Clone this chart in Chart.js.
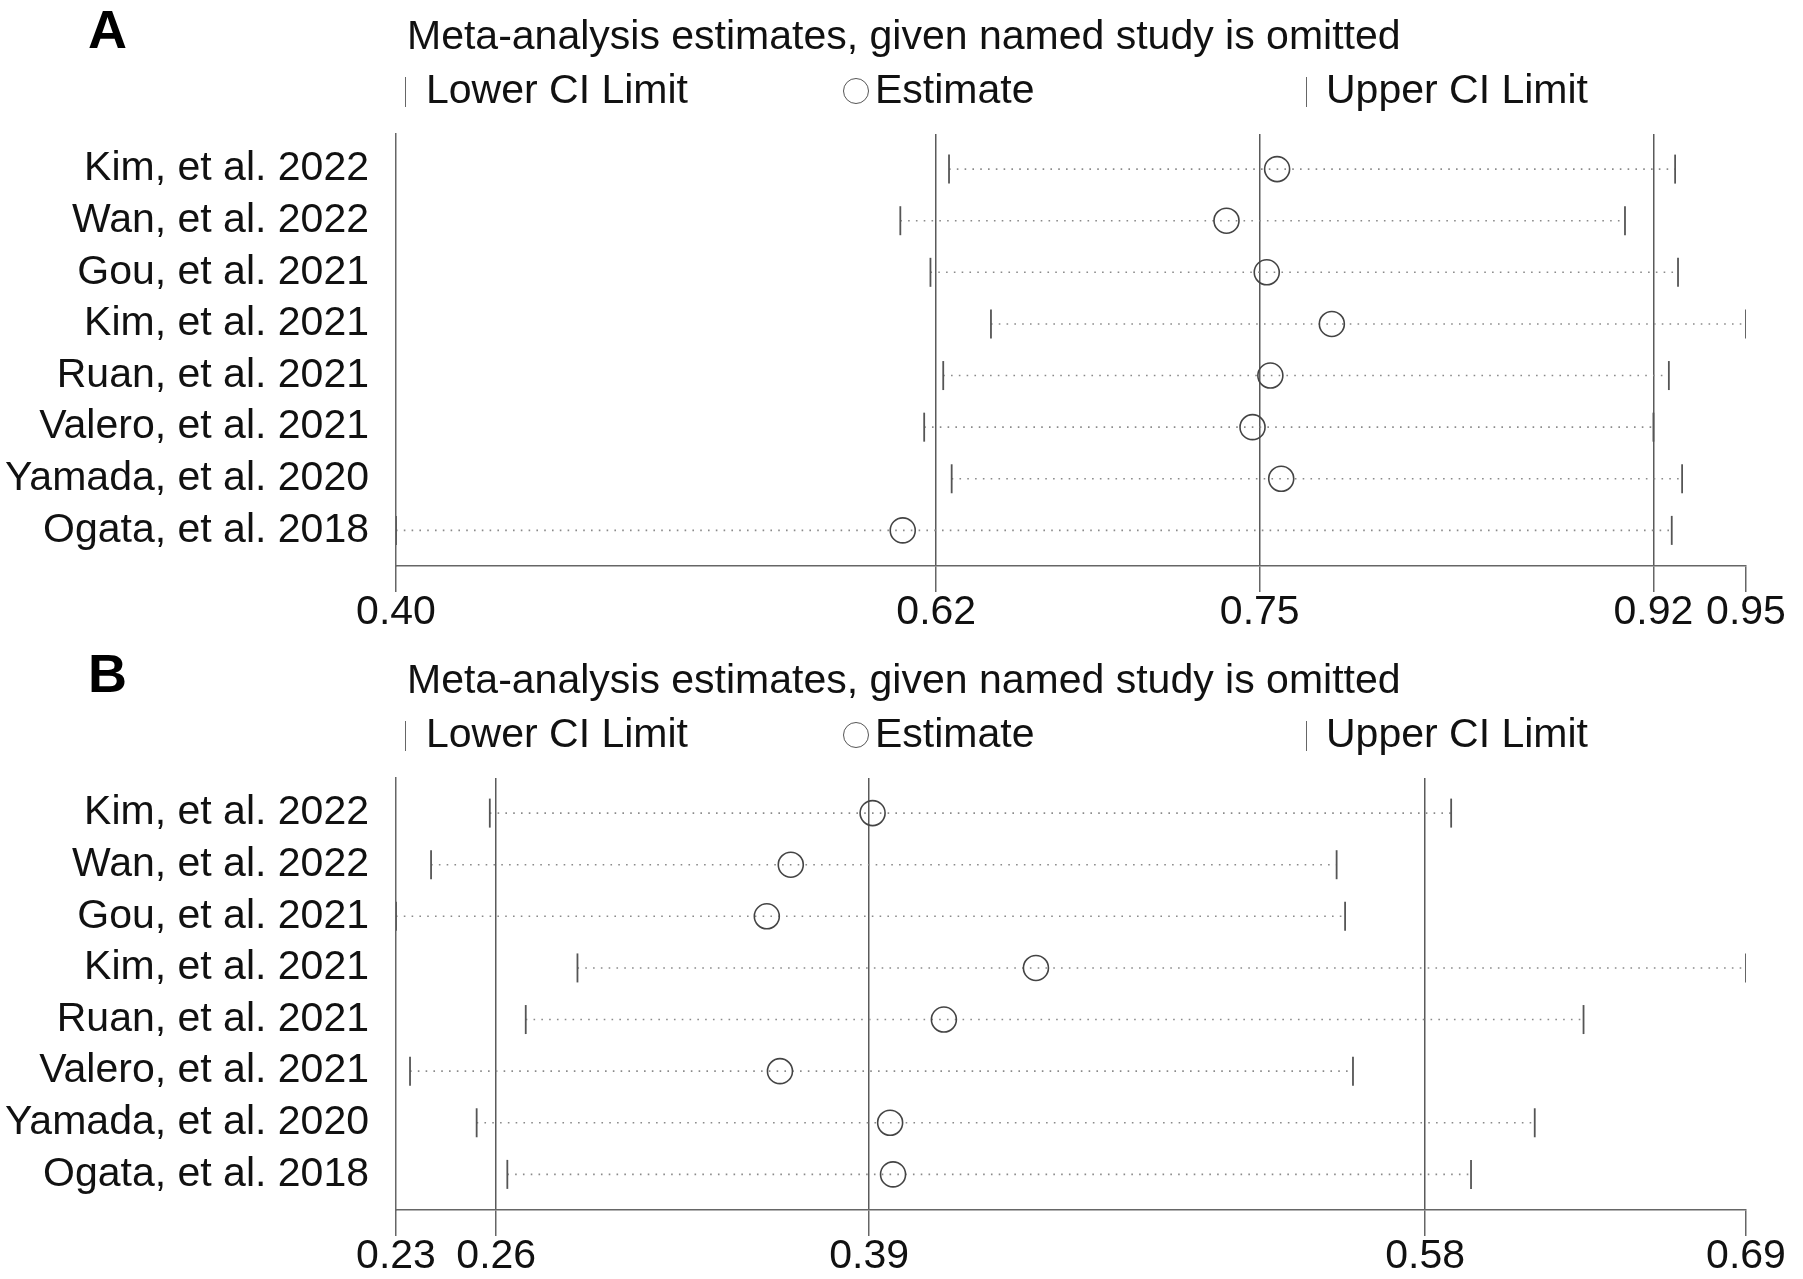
<!DOCTYPE html>
<html>
<head>
<meta charset="utf-8">
<script src="https://cdn.jsdelivr.net/npm/chart.js@4.4.1/dist/chart.umd.min.js"></script>
<style>
html,body{margin:0;padding:0;background:#fff;width:1803px;height:1279px;overflow:hidden;font-family:"Liberation Sans",Arial,sans-serif;}
.panel{position:absolute;left:0;width:1803px;}
.panel canvas{position:absolute;left:0;top:0;}
.txt{position:absolute;white-space:nowrap;line-height:1;color:#111;font-size:41px;}
.letter{font-weight:bold;font-size:54px;color:#000;}
.ltick{position:absolute;width:0;border-left:1.6px solid #666;}
.lcirc{position:absolute;border:1.5px solid #555;border-radius:50%;box-sizing:border-box;}
</style>
</head>
<body>
<div class="panel" id="panelA" style="top:0;height:644px;"><canvas id="chartA" width="1803" height="644"></canvas></div>
<div class="panel" id="panelB" style="top:644px;height:635px;"><canvas id="chartB" width="1803" height="635"></canvas></div>
<script>
// ---- data ----
const studies = ["Kim, et al. 2022","Wan, et al. 2022","Gou, et al. 2021","Kim, et al. 2021","Ruan, et al. 2021","Valero, et al. 2021","Yamada, et al. 2020","Ogata, et al. 2018"];
const panelTitle = "Meta-analysis estimates, given named study is omitted";
const legendLabels = ["Lower CI Limit","Estimate","Upper CI Limit"];

const aLower    = [0.6244, 0.6042, 0.6167, 0.6418, 0.6220, 0.6141, 0.6255, 0.3950];
const aEstimate = [0.7605, 0.7395, 0.7562, 0.7832, 0.7577, 0.7503, 0.7622, 0.6052];
const aUpper    = [0.9256, 0.9048, 0.9268, 0.9550, 0.9230, 0.9166, 0.9285, 0.9242];
const aTickValues = [0.3950, 0.6191, 0.7533, 0.9166, 0.9550];
const aTickLabels = ["0.40","0.62","0.75","0.92","0.95"];

const bLower    = [0.2596, 0.2395, 0.2275, 0.2896, 0.2719, 0.2323, 0.2551, 0.2656];
const bEstimate = [0.3906, 0.3626, 0.3544, 0.4465, 0.4150, 0.3589, 0.3966, 0.3976];
const bUpper    = [0.5886, 0.5494, 0.5523, 0.6895, 0.6339, 0.5550, 0.6172, 0.5954];
const bTickValues = [0.2275, 0.2618, 0.3894, 0.5797, 0.6895];
const bTickLabels = ["0.23","0.26","0.39","0.58","0.69"];

// ---- overlays (panel letter, title, legend) ----
function addOverlay(panelId, letter){
  const p = document.getElementById(panelId);
  const mk = (cls, txt, left, top) => { const d=document.createElement('div'); d.className=cls; if(txt!==null) d.textContent=txt; d.style.left=left+'px'; d.style.top=top+'px'; p.appendChild(d); return d; };
  mk('txt letter', letter, 88, 2);
  mk('txt', panelTitle, 407, 15);
  const t1 = mk('ltick', null, 405, 77); t1.style.height='30px';
  mk('txt', legendLabels[0], 426, 69);
  const c = mk('lcirc', null, 843, 78); c.style.width='26px'; c.style.height='26px';
  mk('txt', legendLabels[1], 875, 69);
  const t2 = mk('ltick', null, 1306, 77); t2.style.height='30px';
  mk('txt', legendLabels[2], 1326, 69);
}
addOverlay('panelA','A');
addOverlay('panelB','B');

Chart.defaults.font.family = '"Liberation Sans", Arial, sans-serif';
Chart.defaults.color = '#111';

function makeChart(canvasId, lower, est, upper, tickValues, tickLabels, xAxisHeight){
  const rows = studies.map((s,i)=>i+1);
  const dotted = [];
  rows.forEach((r,i)=>{ dotted.push({x:lower[i], y:r}); dotted.push({x:upper[i], y:r}); dotted.push({x:upper[i], y:null}); });
  const last = tickValues.length - 1;
  return new Chart(document.getElementById(canvasId), {
    data: {
      datasets: [
        { type:'line', data: dotted, borderColor:'#8a8a8a', borderWidth:1.6, borderDash:[1.6,6.2], pointRadius:0, spanGaps:false, order:4 },
        { type:'scatter', label:legendLabels[0], data: rows.map((r,i)=>({x:lower[i], y:r})), pointStyle:'line', rotation:90, pointRadius:14.5, borderColor:'#555', borderWidth:1.8, order:3 },
        { type:'scatter', label:legendLabels[2], data: rows.map((r,i)=>({x:upper[i], y:r})), pointStyle:'line', rotation:90, pointRadius:14.5, borderColor:'#555', borderWidth:1.8, order:2 },
        { type:'scatter', label:legendLabels[1], data: rows.map((r,i)=>({x:est[i], y:r})), pointStyle:'circle', pointRadius:12.5, backgroundColor:'rgba(255,255,255,0)', borderColor:'#444', borderWidth:1.6, order:1 }
      ]
    },
    options: {
      responsive:false, animation:false,
      layout:{ padding:{ left:0, right:57, top:134, bottom:0 } },
      plugins:{ legend:{display:false}, tooltip:{enabled:false}, title:{display:false} },
      scales:{
        x:{ type:'linear', position:'bottom', min:tickValues[0], max:tickValues[last],
            afterBuildTicks:(s)=>{ s.ticks = tickValues.map(v=>({value:v})); },
            afterFit:(s)=>{ s.height = xAxisHeight; },
            ticks:{ autoSkip:false, maxRotation:0, minRotation:0, padding:0, color:'#111',
                    font:{ size:41, lineHeight:1 },
                    callback:(v,i)=>tickLabels[i] },
            grid:{ drawOnChartArea:true, drawTicks:true, tickLength:26, lineWidth:1.5, tickWidth:1.5, tickColor:'#666',
                   color:(ctx)=> (ctx.index===0 || ctx.index===last) ? 'rgba(0,0,0,0)' : '#5a5a5a' },
            border:{ display:true, color:'#666', width:1.5 }
        },
        y:{ type:'linear', position:'left', reverse:true, min:0.32, max:8.69,
            afterBuildTicks:(s)=>{ s.ticks = rows.map(v=>({value:v})); },
            afterFit:(s)=>{ s.width = 396; },
            ticks:{ autoSkip:false, padding:27, color:'#111', font:{ size:41, lineHeight:1 },
                    callback:(v,i)=>studies[i] },
            grid:{ display:false, drawTicks:false },
            border:{ display:true, color:'#666', width:1.5 }
        }
      }
    }
  });
}
makeChart('chartA', aLower, aEstimate, aUpper, aTickValues, aTickLabels, 78);
makeChart('chartB', bLower, bEstimate, bUpper, bTickValues, bTickLabels, 69);
</script>
</body>
</html>
